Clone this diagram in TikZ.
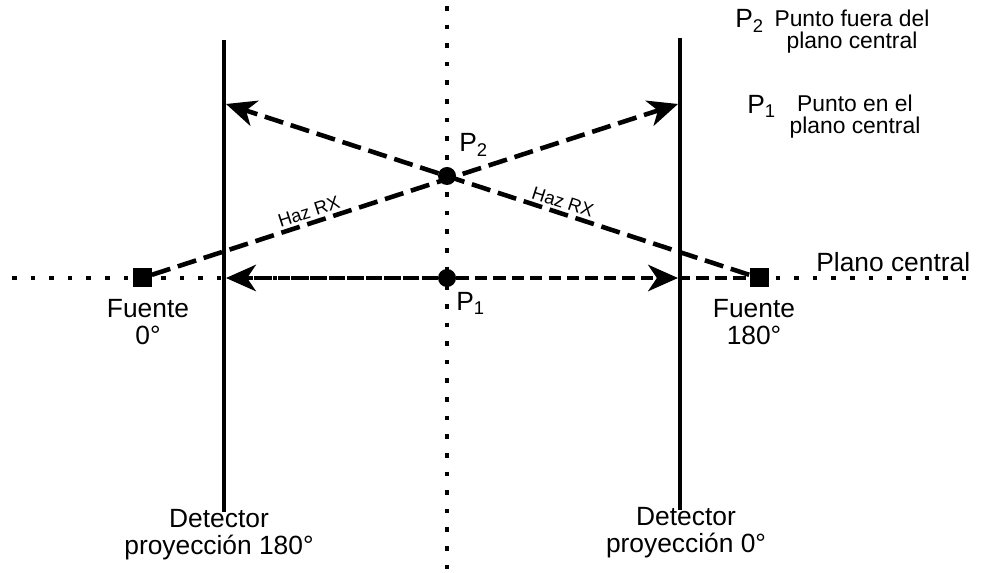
\documentclass[tikz,border=0pt]{standalone}
\usepackage{fontspec}
\setmainfont{Liberation Sans}
\usetikzlibrary{arrows.meta,positioning}

\begin{document}
\begin{tikzpicture}[
  x=0.02cm, y=-0.02cm,
  font=\fontsize{15}{15.5}\selectfont,
  txt/.style={align=center, inner sep=0pt},
  note/.style={txt, font=\fontsize{13}{12.5}\selectfont},
  raylbl/.style={font=\fontsize{10.5}{11}\selectfont, sloped, above, inner sep=1.5pt},
  detline/.style={line width=2.3pt},
  midline/.style={line width=2.6pt, dash pattern=on 2.6pt off 8pt},
  ray/.style={line width=2.6pt, dash pattern=on 11pt off 4.5pt},
  cray/.style={line width=2.5pt, dash pattern=on 7pt off 3.5pt},
  arr/.style={-{Stealth[length=17pt, width=15pt, inset=5pt]}},
  src/.style={fill=black, minimum size=0.38cm, inner sep=0pt},
  ptdot/.style={circle, fill=black, minimum size=0.36cm, inner sep=0pt}
]
\useasboundingbox (0,0) rectangle (983,573);

% ---- central planes (dotted) -------------------------------------------
\coordinate (pw) at (12,278);
\coordinate (pe) at (978,278);
\coordinate (pn) at (447,6);
\coordinate (ps) at (447,573);
\draw[midline] (pw) -- (pe);
\draw[midline] (pn) -- (ps);

% ---- detectors ---------------------------------------------------------
\coordinate (dLt) at (224,40);
\coordinate (dLb) at (224,512);
\coordinate (dRt) at (680,38);
\coordinate (dRb) at (680,510);
\draw[detline] (dLt) -- (dLb);
\draw[detline] (dRt) -- (dRb);
\coordinate (hitL)  at (226,104);
\coordinate (hitR)  at (678,104);
\coordinate (hitLc) at (226,278);
\coordinate (hitRc) at (678,278);

% ---- sources and points ------------------------------------------------
\node[src] (srcL) at (142,278) {};
\node[src] (srcR) at (759,278) {};
\node[ptdot] (P1) at (447,278) {};
\node[ptdot] (P2) at (447,176) {};

% ---- rays --------------------------------------------------------------
\draw[ray, arr] (srcL) -- node[raylbl, pos=0.305] {Haz RX} (hitR);
\draw[ray, arr] (srcR) -- node[raylbl, pos=0.363] {Haz RX} (hitL);
\draw[cray, arr] (P1) -- (hitLc);
\draw[cray, arr] (P1) -- (hitRc);
\draw[cray] (hitRc) -- (srcR);

% ---- labels ------------------------------------------------------------
\node[txt, anchor=base west] (lP2) at (459,152) {P\textsubscript{2}};
\node[txt, anchor=base west] (lP1) at (456,311) {P\textsubscript{1}};
\node[txt, anchor=north] (lsrcL) at (148,299) {Fuente\\0°};
\node[txt, anchor=north] (lsrcR) at (754,299) {Fuente\\180°};
\node[txt, anchor=base west] (plano) at (816,272) {Plano central};
\node[txt, anchor=north] (ldetL) at (219,509) {Detector\\proyección 180°};
\node[txt, anchor=north] (ldetR) at (686,507) {Detector\\proyección 0°};

% ---- legend ------------------------------------------------------------
\node[txt, anchor=base west] (kP2) at (735,28) {P\textsubscript{2}};
\node[note] (kP2t) at (852,32) {Punto fuera del\\plano central};
\node[txt, anchor=base west] (kP1) at (747,114) {P\textsubscript{1}};
\node[note] (kP1t) at (855,117) {Punto en el\\plano central};
\end{tikzpicture}
\end{document}
